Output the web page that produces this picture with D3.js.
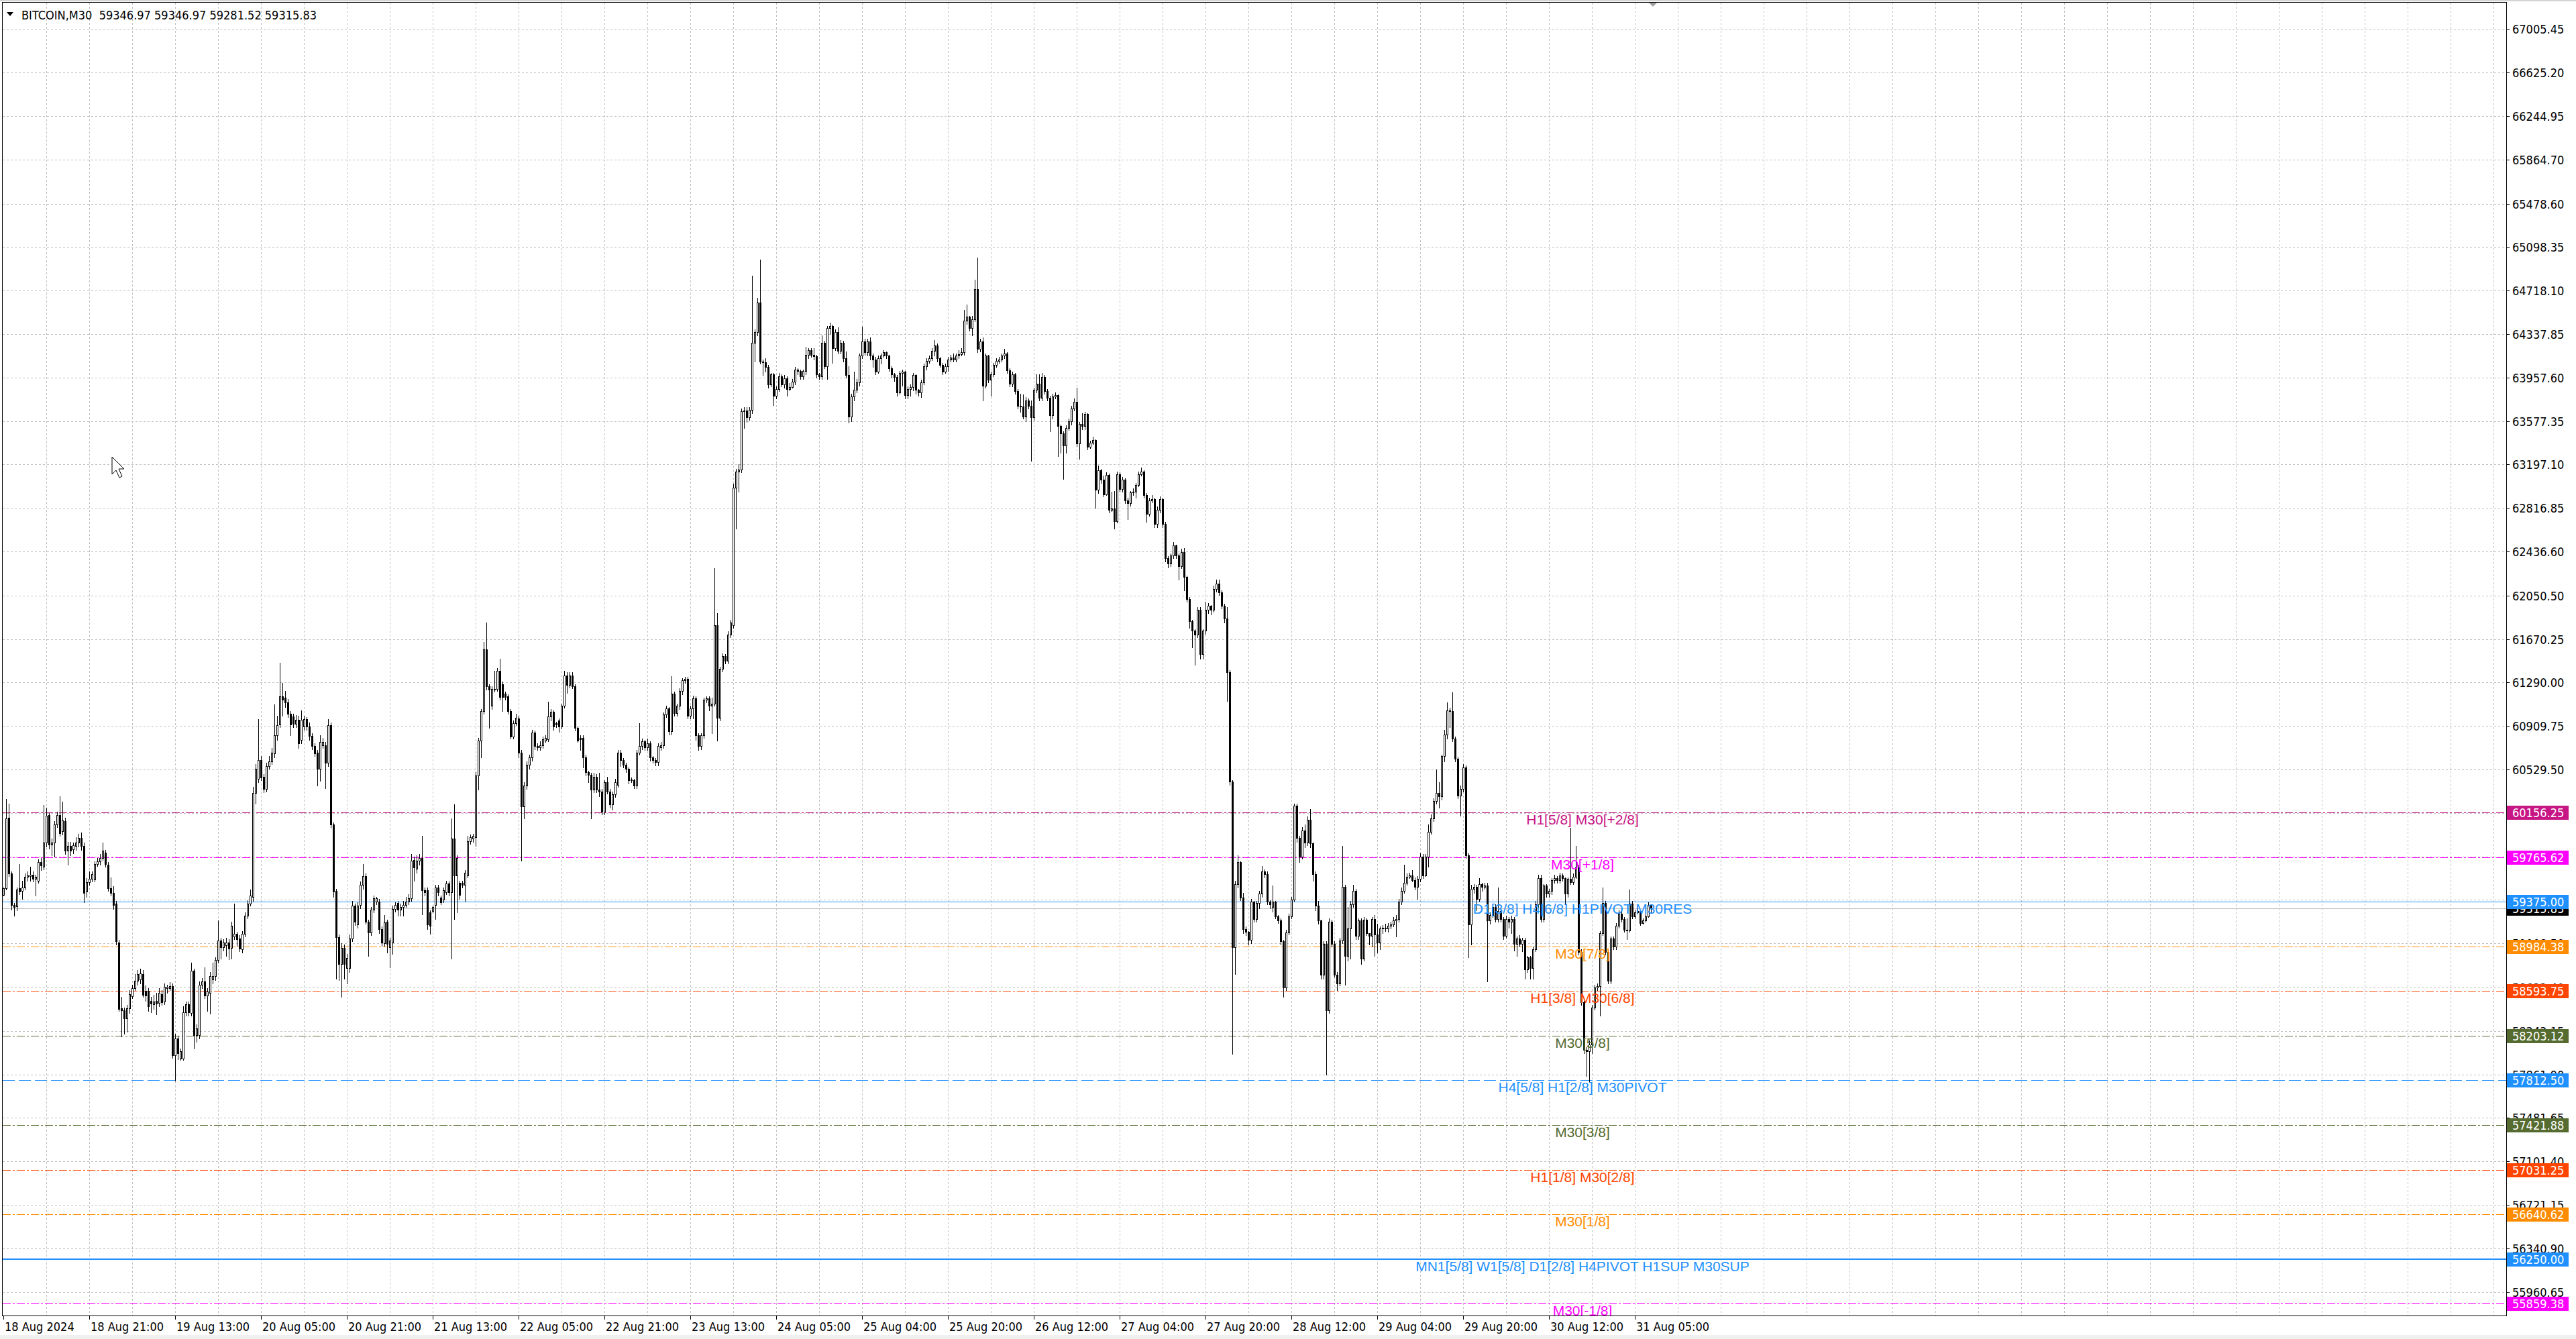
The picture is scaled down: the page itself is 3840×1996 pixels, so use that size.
<!DOCTYPE html>
<html><head><meta charset="utf-8">
<script src="https://cdn.jsdelivr.net/npm/d3@7"></script>
<style>html,body{margin:0;padding:0;background:#fff;overflow:hidden}
.mt{font-family:'DejaVu Sans Condensed','DejaVu Sans',sans-serif;font-stretch:condensed;font-size:18px}
.lv{font-family:'Liberation Sans',Arial,sans-serif;font-size:21px}
</style>
</head><body><svg id="c" width="3840" height="1996"></svg>
<script>
// ---------- data ----------
const title = "BITCOIN,M30\u00a0 59346.97 59346.97 59281.52 59315.83";
const bidPrice = 59315.83;
const priceTicks = [67005.45,66625.20,66244.95,65864.70,65478.60,65098.35,64718.10,64337.85,63957.60,63577.35,63197.10,62816.85,62436.60,62050.50,61670.25,61290.00,60909.75,60529.50,60149.25,59769.00,59388.75,59008.50,58622.40,58242.15,57861.90,57481.65,57101.40,56721.15,56340.90,55960.65];
const timeLabels = ["18 Aug 2024","18 Aug 21:00","19 Aug 13:00","20 Aug 05:00","20 Aug 21:00","21 Aug 13:00","22 Aug 05:00","22 Aug 21:00","23 Aug 13:00","24 Aug 05:00","25 Aug 04:00","25 Aug 20:00","26 Aug 12:00","27 Aug 04:00","27 Aug 20:00","28 Aug 12:00","29 Aug 04:00","29 Aug 20:00","30 Aug 12:00","31 Aug 05:00"];
const levelPrices = [60156.25,59765.62,59375.00,58984.38,58593.75,58203.12,57812.50,57421.88,57031.25,56640.62,56250.00,55859.38];
const levelNames = ["H1[5/8] M30[+2/8]","M30[+1/8]","D1[3/8] H4[6/8] H1PIVOT M30RES","M30[7/8]","H1[3/8] M30[6/8]","M30[5/8]","H4[5/8] H1[2/8] M30PIVOT","M30[3/8]","H1[1/8] M30[2/8]","M30[1/8]","MN1[5/8] W1[5/8] D1[2/8] H4PIVOT H1SUP M30SUP","M30[-1/8]"];
const levelColors = ["#C71585","#FF00FF","#1E90FF","#FF8C00","#FF4500","#556B2F","#1E90FF","#556B2F","#FF4500","#FF8C00","#1E90FF","#FF00FF"];
const levelStyles = ["dashdot","dashdot","solid","dashdot","dashdot","dashdot","dash","dashdot","dashdot","dashdot","solid2","dashdot"];

// M30 bars, oldest first
const open = [
59435,59492,60110,59620,59349,59335,59492,59472,59500,59592,59600,59612,59577,59557,59725,59683,59891,60133,59877,59891,
60053,60133,59990,60082,59820,59862,59834,59862,59891,59934,59862,59463,59549,59577,59570,59706,59728,59760,59806,59700,
59492,59455,59358,59021,58443,58423,58357,58443,58550,58617,58685,58694,58742,58594,58594,58508,58480,58508,58491,58565,
58503,58617,58622,58636,58030,58180,58005,58005,58409,58480,58400,58771,58209,58209,58651,58680,58552,58580,58694,58722,
58865,59036,58979,58993,59021,58970,59070,59092,59056,58959,59092,59255,59358,59420,60327,60447,60612,60470,60361,60561,
60604,60675,60832,60926,61174,61160,61117,61017,60994,60931,60966,60789,60909,60971,60909,60823,60738,60680,60538,60746,
60746,60590,60917,60053,59472,59064,58828,58970,58794,58794,59056,59341,59178,59349,59520,59597,59198,59107,59307,59378,
59378,59136,59015,59198,58979,59021,59312,59364,59307,59330,59349,59378,59406,59740,
59663,59736,59757,59478,59478,59285,59294,59349,59500,59410,59392,59457,59534,59457,59929,59607,59542,59542,59521,59607,
59907,59929,59938,60478,60787,61045,61582,61260,61088,61239,61239,61397,61280,61196,61170,61045,60818,60938,60977,60680,
60208,60393,60573,60637,60852,60736,60723,60745,60787,60796,60994,61036,60938,60959,60908,61088,61354,61269,61354,61260,
60895,60809,60809,60637,60509,60487,60358,60470,60358,60337,60165,60423,60337,60229,60315,60400,60680,60616,60573,60539,
60444,60436,60393,60680,60736,60779,60723,60760,60637,60616,60594,60723,60745,61011,61067,60865,61196,61024,61088,61217,
61311,61324,61003,61067,61153,60831,60736,60831,61140,61153,61088,61110,61796,60981,61410,61526,61483,61711,61796,62998,
63140,63157,63663,63672,63610,63680,64265,64359,64617,64102,64093,64050,63900,63986,63801,63857,63973,63900,63956,63857,
63878,63921,64029,64016,63973,64016,64158,64201,64158,64145,63986,63973,64265,64059,64394,
64412,64219,64357,64196,64265,64127,63980,63621,63796,63851,63920,64150,64274,64182,64274,64150,64118,64012,64127,64150,
64182,64150,64044,63989,63966,63828,63998,64012,63805,63860,63874,63980,63851,63828,63920,64058,64104,64127,64196,64242,
64127,64072,64012,64058,64118,64136,64118,64150,64164,64182,64458,64495,64394,64472,64734,64210,64274,63888,64150,63943,
63989,64072,64104,64118,64150,64173,64026,63906,63989,63842,63713,63704,63621,63759,63713,63612,63851,63906,63782,63966,
63842,63782,63630,63796,63805,63538,63474,63368,63520,63575,63690,63750,63382,63552,63538,63644,63354,63391,63414,62977,
63152,63069,62940,63106,62802,62816,62701,63115,62986,63069,62885,62862,62954,62960,63023,63115,63138,62931,62770,62885,
62894,62678,62802,62894,62678,62379,62333,62402,62494,62402,62310,62434,62218,62020,61827,61744,61712,61928,61542,61744,
61928,61965,61928,62112,62158,62080,61965,61850,61380,60424,58975,59527,59720,59412,59136,
59113,59040,59376,59225,59364,59445,59642,59619,59376,59330,59376,59248,59213,59028,58623,59109,59248,59394,60214,59936,
59769,60001,59890,60093,59885,59619,59341,59213,58739,59005,58426,59202,59005,58739,58658,59033,59503,58901,59144,59352,
59468,59074,59213,58878,59218,59098,59074,59225,59086,59016,59144,59149,59144,59162,59179,59213,59225,59376,59468,59538,
59596,59603,59566,59503,59573,59769,59607,59769,59989,60105,60256,60325,60297,60649,60835,61048,61044,60800,60626,60302,
60360,60552,59781,59179,59486,59503,59399,59526,59503,59519,59213,59260,59329,59225,59295,59225,59079,59225,59202,59225,
59005,59051,59005,59040,58785,58889,58797,58959,59352,59584,59225,59515,59445,59468,59561,59584,59561,59603,59584,59445,
59573,59549,59596,59677,58936,58496,58079,58068,58125,58449,58623,58634,59098,59364,58936,58681,59051,58982,59167,59271,
59225,59132,59121,59357,59248,59283,59295,59190,59213,59248,59346.97];
const high = [
59500,60276,60233,59640,59364,59500,59706,59560,59620,59640,59680,59640,59610,59745,59760,60219,60200,60150,59930,60080,
60160,60296,60250,60110,59900,59900,59890,59940,59970,59980,59890,59580,59640,59640,59730,59760,59790,59890,59830,59720,
59590,59510,59380,59040,58540,58450,58470,58600,58650,58740,58780,58790,58780,58640,58620,58540,58560,58580,58620,58600,
58660,58650,58670,58660,58220,58200,58090,58460,58500,58500,58840,58790,58300,58680,58710,58800,58620,58760,58840,58890,
59210,59060,59050,59060,59050,59200,59360,59110,59080,59120,59280,59390,59480,60380,60580,60970,60650,60490,60590,60650,
60720,61100,61000,61467,61290,61220,61150,61040,61020,61010,61000,61050,61000,60990,60940,60850,60760,60700,60830,60810,
60770,60970,60940,60070,59490,59090,59010,59000,58920,59090,59380,59360,59370,59550,59706,59620,59220,59330,59430,59420,
59400,59160,59260,59220,59060,59340,59370,59380,59360,59380,59420,59440,59790,59770,
59779,59790,59950,59500,59500,59300,59340,59520,59520,59430,59500,59560,59550,60101,60229,59780,59560,59560,59650,59950,
59960,59970,60509,60810,61060,61646,61818,61280,61260,61397,61420,61500,61300,61210,61190,61060,60960,61020,61000,60700,
60420,60600,60660,60880,60870,60760,60780,60820,60830,61122,61060,61050,60950,60980,61110,61397,61380,61380,61380,61280,
60910,60830,60830,60660,60520,60500,60500,60490,60500,60360,60440,60470,60360,60340,60450,60700,60700,60630,60590,60550,
60460,60450,60700,60938,60800,60790,60800,60780,60650,60630,60760,60770,61030,61090,61080,61346,61210,61110,61240,61330,
61340,61340,61090,61180,61170,60850,60850,61160,61170,61170,61160,62290,61900,61430,61550,61540,61740,61840,63030,63160,
63200,63690,63700,63700,63700,64850,64380,64660,64990,64120,64130,64070,64000,64000,63880,64000,63990,63980,63970,63910,
63950,64050,64040,64030,64030,64230,64220,64220,64215,64160,64000,64330,64280,64410,64440,
64420,64380,64400,64290,64280,64190,64058,63820,64012,63950,64170,64403,64300,64300,64310,64170,64140,64150,64170,64200,
64190,64160,64060,64000,63980,64020,64030,64020,63880,63900,64000,63990,63860,63940,64080,64130,64150,64220,64288,64260,
64140,64090,64080,64140,64160,64170,64170,64200,64220,64550,64600,64500,64500,64817,65010,64300,64310,64170,64160,64010,
64090,64130,64140,64170,64210,64180,64040,64010,64000,63860,63820,63810,63790,63780,63760,63870,63989,63990,64000,63980,
63860,63800,63820,63830,63810,63550,63490,63540,63600,63710,63780,63870,63570,63650,63660,63650,63410,63440,63420,63190,
63160,63100,63130,63120,62960,62970,63140,63130,63090,63080,62910,62970,62990,63040,63140,63170,63150,62950,62910,62930,
62910,62830,62920,62910,62700,62400,62420,62520,62500,62420,62460,62470,62230,62040,61840,61760,61950,61950,61760,62000,
61990,61970,62140,62190,62190,62100,61980,61950,61400,60440,59560,59780,59730,59450,59160,
59120,59399,59380,59380,59470,59688,59660,59640,59390,59515,59380,59260,59230,59040,59130,59270,59420,60232,60230,59950,
60030,60050,60120,60186,59890,59640,59380,59220,59030,59030,59230,59220,59030,58760,59060,59862,59520,59330,59380,59520,
59490,59230,59230,59240,59230,59100,59240,59260,59180,59160,59170,59180,59190,59200,59240,59260,59400,59500,59700,59620,
59630,59650,59590,59600,59800,59790,59790,60050,60140,60280,60530,60420,60660,60880,61117,61070,61205,60820,60640,60390,
60580,60570,59800,59520,59530,59520,59580,59540,59540,59540,59280,59350,59350,59500,59310,59240,59250,59240,59250,59240,
59070,59080,59060,59060,58900,58900,58980,59380,59610,59610,59530,59530,59490,59580,59610,59600,59630,59620,59590,59590,
60024,59620,59862,59700,58960,58510,58100,58160,58470,58650,58660,59120,59500,59380,58950,59070,59070,59190,59300,59310,
59240,59230,59480,59380,59300,59320,59300,59230,59270,59370,59346.97];
const low = [
59426,59480,59600,59307,59255,59300,59440,59400,59480,59560,59560,59550,59426,59540,59650,59660,59860,59840,59780,59768,
60030,59950,59960,59790,59700,59780,59800,59830,59860,59830,59369,59420,59520,59550,59550,59690,59700,59740,59680,59470,
59430,59310,59000,58420,58195,58220,58240,58400,58530,58600,58650,58660,58540,58510,58420,58410,58440,58390,58460,58470,
58480,58580,58600,58010,57810,58000,57990,57990,58380,58380,58380,58090,58150,58180,58620,58530,58420,58394,58660,58690,
58840,58880,58950,58900,58870,58880,59050,58990,58940,58930,59070,59230,59340,59380,60230,60420,60440,60330,60340,60540,
60580,60640,60790,60900,61000,61080,60990,60830,60900,60900,60720,60760,60880,60880,60790,60710,60650,60390,60430,60720,
60370,60560,60020,59420,58700,58690,58545,58700,58660,58760,59030,59170,59150,59320,59490,59180,58900,59080,59280,59350,
59100,58990,58990,58930,58800,58920,59290,59250,59250,59250,59330,59350,59380,59560,
59628,59700,59264,59430,59135,59092,59280,59221,59430,59350,59370,59440,59430,58877,59221,59285,59400,59500,59379,59590,
59880,59900,59864,60358,60637,61020,61230,60895,61060,61210,61220,61140,61045,61140,61020,60800,60800,60920,60637,59736,
60101,60360,60540,60610,60710,60700,60700,60720,60770,60780,60960,60880,60900,60860,60890,61070,61200,61250,61240,60870,
60770,60700,60550,60480,60420,60101,60330,60330,60300,60140,60140,60320,60200,60180,60290,60380,60560,60550,60510,60410,
60420,60370,60370,60660,60710,60700,60700,60610,60590,60570,60570,60700,60720,60990,60840,60840,61000,61000,61060,61190,
61290,60980,60980,60980,60790,60700,60710,60810,61120,61050,60850,61090,60787,60960,61390,61460,61460,61690,61770,62640,
62960,63130,63520,63570,63590,63650,64100,64330,64080,63980,64010,63870,63880,63720,63780,63840,63880,63870,63800,63850,
63870,63900,63990,63950,63950,63990,64130,64140,64120,63960,63950,63950,64040,63950,64340,
64090,64200,64170,64170,64100,63960,63566,63575,63760,63830,63890,64130,64160,64150,64120,64050,63990,64000,64080,64140,
64130,64020,63960,63930,63800,63820,63890,63780,63780,63800,63850,63820,63800,63790,63900,64030,64090,64110,64150,64100,
64050,63990,64000,64020,64100,64100,64100,64130,64150,64160,64430,64370,64330,64450,64180,64190,63760,63870,63920,63800,
63970,64050,64090,64100,64130,64000,63880,63880,63820,63690,63660,63600,63580,63690,63230,63590,63830,63760,63760,63820,
63760,63490,63600,63780,63270,63300,63070,63300,63500,63550,63670,63360,63250,63510,63510,63330,63340,63380,62820,62950,
63040,62920,62930,62780,62790,62640,62690,62960,62960,62860,62720,62840,62930,62910,63010,63100,62910,62700,62750,62870,
62650,62650,62780,62650,62350,62300,62310,62380,62380,62190,62290,62100,62000,61770,61600,61450,61690,61500,61500,61720,
61900,61890,61910,62090,62060,61940,61820,61130,60400,58046,58745,59500,59390,59100,59080,
59000,59010,59200,59200,59320,59420,59590,59350,59320,59290,59230,59190,59000,58542,58600,59090,59230,59380,59900,59720,
59750,59850,59870,59850,59560,59300,59180,58700,58700,57860,58400,58980,58720,58600,58640,59010,58650,58860,58880,59330,
59050,59050,58830,58860,59080,59000,58980,58900,58930,58960,59100,59120,59110,59140,59160,59070,59200,59350,59450,59520,
59580,59550,59480,59400,59550,59580,59600,59680,59970,60080,60230,60200,60270,60600,60800,60900,60780,60600,60280,60130,
60340,59760,58889,59000,59450,59300,59380,59470,59490,58680,59180,59240,59200,59200,59200,59050,59060,59150,59100,58950,
58900,58980,58940,58704,58760,58700,58700,58940,59330,59200,59200,59420,59420,59440,59540,59540,59540,59560,59350,59420,
59530,59530,59580,58910,58470,58050,57850,57800,58050,58430,58600,58380,59080,58910,58660,58660,58960,58960,59150,59200,
59110,59050,59110,59230,59230,59270,59170,59180,59200,59240,59281.52];
const close = [
59492,60105,59620,59349,59330,59483,59463,59500,59592,59606,59612,59577,59592,59720,59695,59891,60128,59877,59891,60053,
60133,59976,60088,59820,59862,59820,59868,59891,59934,59862,59455,59549,59577,59615,59706,59728,59757,59820,59706,59492,
59455,59349,59027,58437,58423,58357,58443,58565,58622,58685,58742,58750,58560,58552,58460,58486,58503,58486,58577,58494,
58628,58628,58636,58030,58180,58052,58067,58409,58480,58409,58771,58209,58266,58651,58680,58552,58589,58722,58722,58865,
59036,58979,59021,59021,58964,59164,59092,59050,58964,59092,59255,59358,59426,60327,60538,60612,60461,60361,60561,60604,
60680,60832,60917,61174,61142,61117,61017,60926,60931,60966,60760,60966,60971,60909,60823,60738,60675,60538,60775,60775,
60590,60917,60053,59463,59064,58828,58970,58828,58885,59056,59341,59198,59341,59520,59597,59198,59107,59307,59406,59406,
59136,59021,59192,59007,59036,59312,59349,59307,59330,59349,59378,59406,59734,59677,
59736,59757,59478,59460,59178,59165,59328,59500,59457,59371,59478,59534,59457,59929,59607,59757,59435,59521,59628,59907,
59938,59950,60478,60787,61045,61582,61260,61230,61239,61230,61397,61165,61165,61165,61045,60818,60938,60981,60680,60208,
60393,60573,60637,60852,60736,60723,60745,60796,60809,60994,61036,60908,60925,60908,61088,61354,61269,61354,61260,60895,
60787,60796,60637,60509,60487,60358,60470,60358,60337,60165,60423,60337,60229,60315,60423,60680,60616,60573,60539,60436,
60436,60393,60680,60736,60779,60723,60760,60637,60616,60594,60736,60745,61011,61067,60865,61196,61024,61088,61217,61311,
61324,61003,61067,61153,60831,60736,60831,61140,61153,61088,61110,61796,60981,61410,61526,61483,61711,61818,62998,63140,
63157,63663,63672,63610,63680,64265,64359,64617,64102,64093,64050,63900,63986,63801,63857,63973,63900,63956,63857,63878,
63921,64029,64016,63973,64016,64158,64201,64158,64145,63986,63973,64265,64059,64394,64410,
64219,64357,64196,64265,64127,63980,63621,63796,63851,63920,64150,64274,64182,64274,64150,64118,64012,64127,64150,64182,
64150,64044,63989,63966,63828,63998,64012,63805,63860,63874,63980,63851,63828,63920,64058,64104,64127,64196,64242,64127,
64072,64012,64058,64118,64136,64118,64150,64164,64182,64458,64495,64394,64472,64734,64210,64274,63888,64150,63943,63989,
64072,64104,64118,64150,64173,64026,63906,63989,63842,63713,63704,63621,63759,63713,63612,63851,63906,63782,63966,63842,
63782,63630,63796,63805,63538,63474,63368,63520,63575,63690,63750,63382,63552,63538,63644,63354,63391,63414,62977,63152,
63069,62940,63106,62802,62816,62701,63115,62986,63069,62885,62862,62954,62960,63023,63115,63138,62931,62770,62885,62894,
62678,62802,62894,62678,62379,62333,62402,62494,62402,62310,62434,62218,62020,61827,61744,61712,61928,61542,61744,61928,
61965,61928,62112,62158,62080,61965,61850,61380,60424,58975,59527,59720,59412,59136,59113,
59040,59376,59225,59364,59445,59642,59619,59376,59352,59376,59248,59213,59028,58623,59109,59248,59394,60214,59936,59769,
60001,59890,60093,59885,59619,59341,59213,58739,59005,58426,59202,59005,58739,58658,59033,59503,58901,59144,59352,59468,
59074,59213,58878,59218,59098,59074,59225,59086,59016,59144,59149,59144,59162,59179,59213,59225,59376,59468,59538,59596,
59603,59566,59503,59573,59769,59607,59769,59989,60105,60256,60325,60297,60649,60835,61048,61044,60800,60626,60302,60360,
60552,59781,59179,59486,59503,59399,59526,59503,59519,59213,59260,59329,59225,59295,59225,59079,59225,59202,59225,59005,
59051,59005,59040,58785,58889,58797,58959,59352,59584,59225,59515,59445,59468,59561,59584,59561,59603,59584,59445,59573,
59549,59596,59677,58936,58496,58079,58068,58125,58449,58623,58634,59098,59364,58936,58681,59051,58982,59167,59271,59225,
59132,59121,59357,59248,59283,59295,59190,59213,59248,59347,59315.83];

// ---------- layout ----------
const W=3840,H=1996;
const P={l:4,t:4,r:3736,b:1961};
const yMin=55755.5, yMax=67239.2, barsInView=932.75;
const y=d3.scaleLinear().domain([yMin,yMax]).range([P.b,P.t]);
const x=d3.scaleLinear().domain([0,barsInView]).range([5,P.r]);
const svg=d3.select("#c");
svg.append("rect").attr("width",W).attr("height",H).attr("fill","#fff");
svg.append("rect").attr("width",W).attr("height",2).attr("fill","#d4d4d4");
svg.append("defs").append("clipPath").attr("id","pc").append("rect")
  .attr("x",P.l).attr("y",P.t).attr("width",P.r-P.l).attr("height",P.b-P.t);
const g=svg.append("g").attr("clip-path","url(#pc)").attr("shape-rendering","crispEdges");
const row=v=>Math.floor(v);
const px=v=>row(v)+0.5;

// grid
g.selectAll(".hg").data(priceTicks).join("line")
  .attr("x1",P.l).attr("x2",P.r).attr("y1",d=>px(y(d))).attr("y2",d=>px(y(d)))
  .attr("stroke","#c0c0c0").attr("stroke-dasharray","3,3");
const vg=d3.range(16,barsInView,16);
g.selectAll(".vg").data(vg).join("line")
  .attr("x1",d=>Math.round(x(d))+0.5).attr("x2",d=>Math.round(x(d))+0.5).attr("y1",P.t).attr("y2",P.b)
  .attr("stroke","#c0c0c0").attr("stroke-dasharray","3,3");

// levels
const dashOf={dashdot:"12,3,3,3",dash:"18,6",solid:null,solid2:null};
levelPrices.forEach((p,i)=>{
  const yy=Math.round(y(p)), thick=levelStyles[i]==="solid2";
  g.append("line").attr("x1",P.l).attr("x2",P.r)
   .attr("y1",thick?yy:yy+0.5).attr("y2",thick?yy:yy+0.5)
   .attr("stroke",levelColors[i]).attr("stroke-width",thick?2:1)
   .attr("stroke-dasharray",dashOf[levelStyles[i]]);
});
// bid line
g.append("line").attr("x1",P.l).attr("x2",P.r).attr("y1",Math.round(y(bidPrice))+0.5).attr("y2",Math.round(y(bidPrice))+0.5)
 .attr("stroke","#c0c0c0");

// candles
const cg=g.append("g");
close.forEach((c,i)=>{
  const cx=Math.round(x(i)), o=open[i];
  cg.append("line").attr("x1",cx+0.5).attr("x2",cx+0.5)
    .attr("y1",Math.round(y(high[i]))).attr("y2",Math.round(y(low[i]))+1).attr("stroke","#000");
  const top=Math.round(y(Math.max(o,c))), bot=Math.round(y(Math.min(o,c)));
  cg.append("path").attr("d",`M${cx-0.5},${top+0.5}H${cx+1.5}V${bot+0.5}H${cx-0.5}Z`)
    .attr("fill",c>=o?"#fff":"#000").attr("stroke","#000");
});

// level labels
levelPrices.forEach((p,i)=>{
  g.append("text").attr("class","lv").attr("x",2359).attr("y",Math.round(y(p))+18)
   .attr("text-anchor","middle").attr("fill",levelColors[i]).text(levelNames[i]);
});

// frame
svg.append("rect").attr("x",P.l-0.5).attr("y",P.t-0.5).attr("width",P.r-P.l+1).attr("height",P.b-P.t+1)
  .attr("fill","none").attr("stroke","#000").attr("shape-rendering","crispEdges");

// right axis
const ra=svg.append("g").attr("shape-rendering","crispEdges");
ra.selectAll("line").data(priceTicks).join("line")
  .attr("x1",P.r).attr("x2",P.r+5).attr("y1",d=>px(y(d))).attr("y2",d=>px(y(d))).attr("stroke","#000");
ra.selectAll("text").data(priceTicks).join("text").attr("class","mt")
  .attr("x",P.r+9).attr("y",d=>row(y(d))+7).attr("fill","#000").text(d=>d.toFixed(2));
// bid box
const bb=svg.append("g");
bb.append("rect").attr("x",P.r+1).attr("y",Math.round(y(bidPrice))-10).attr("width",92).attr("height",21).attr("fill","#000");
bb.append("text").attr("class","mt").attr("x",P.r+9).attr("y",Math.round(y(bidPrice))+7).attr("fill","#fff").text(bidPrice.toFixed(2));
// level boxes
levelPrices.forEach((p,i)=>{
  const yy=Math.round(y(p));
  svg.append("rect").attr("x",P.r+1).attr("y",yy-10).attr("width",92).attr("height",21).attr("fill",levelColors[i]);
  svg.append("text").attr("class","mt").attr("x",P.r+9).attr("y",yy+7).attr("fill","#fff").text(p.toFixed(2));
});

// bottom axis
const ba=svg.append("g").attr("shape-rendering","crispEdges");
timeLabels.forEach((t,k)=>{
  const xx=Math.round(x(k*32));
  ba.append("line").attr("x1",xx+0.5).attr("x2",xx+0.5).attr("y1",P.b).attr("y2",P.b+6).attr("stroke","#000");
  ba.append("text").attr("class","mt").attr("x",xx+2).attr("y",1984).attr("fill","#000").text(t);
});
svg.append("rect").attr("x",0).attr("y",1990).attr("width",W).attr("height",6).attr("fill","#f0f0f0");

// title
svg.append("path").attr("d","M10,18 L20,18 L15,24 Z").attr("fill","#000");
svg.append("text").attr("class","mt").attr("x",32).attr("y",29).attr("fill","#000").text(title);

// chart shift marker
svg.append("path").attr("d","M2458,4 L2470,4 L2464,10 Z").attr("fill","#a0a0a0");
// mouse cursor
svg.append("path").attr("d","M167,681 L167,707 L173,701 L178,712 L182,710 L177,699 L185,699 Z")
  .attr("fill","#fff").attr("stroke","#000").attr("stroke-width",1);
</script></body></html>
